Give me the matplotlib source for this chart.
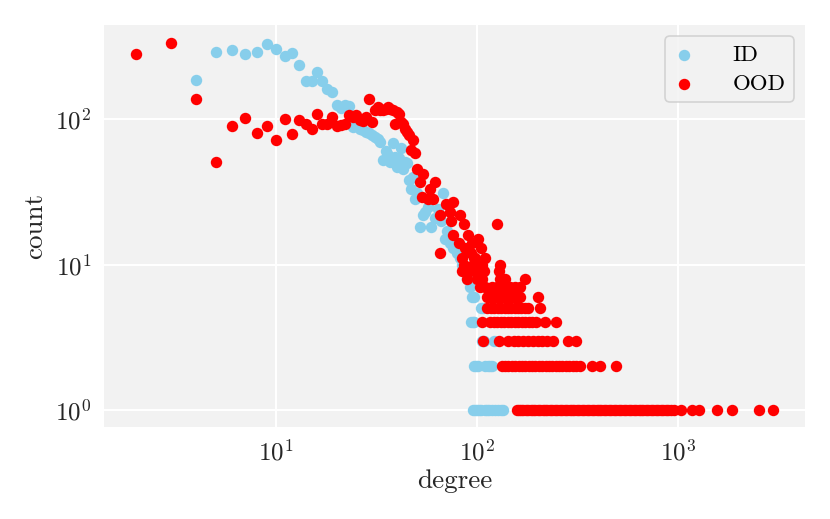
import matplotlib
matplotlib.use("Agg")
import matplotlib.pyplot as plt

# ---------------- data ----------------
id_degree = [4, 5, 6, 7, 8, 9, 10, 11, 12, 13, 14, 15, 16, 17, 18, 19, 20, 21, 22, 23,
             24, 25, 26, 27, 28, 29, 30, 31, 32, 33, 34, 35, 36, 37, 38, 39, 40, 41, 42, 43,
             44, 45, 46, 47, 48, 49, 50, 52, 54, 55, 57, 59, 62, 64, 66, 68, 69, 71, 73, 76,
             79, 82, 84, 86, 89, 92, 94, 96, 105, 107, 93, 95, 97, 106, 108, 121,
             97, 99, 101, 110, 113, 116, 118,
             95, 98, 100, 102, 104, 109, 112, 115, 119, 123, 127, 131, 135]
id_count = [185, 290, 298, 281, 290, 326, 303, 270, 284, 235, 184, 184, 210, 182, 160, 153, 125, 120, 125, 122,
            88, 92, 86, 84, 82, 80, 78, 75, 73, 70, 52, 60, 57, 51, 68, 55, 47, 54, 63, 45,
            51, 50, 38, 33, 40, 28, 31, 18, 22, 23, 25, 18, 21, 24, 20, 31, 15, 17, 14, 13,
            12, 11, 10, 9, 8, 7, 6, 6, 5, 5, 4, 4, 4, 3, 3, 3,
            2, 2, 2, 2, 2, 2, 2,
            1, 1, 1, 1, 1, 1, 1, 1, 1, 1, 1, 1, 1]

ood_degree = [2, 3, 4, 5, 6, 7, 8, 9, 10, 11, 12, 13, 14, 15, 16, 17, 18, 19, 20, 21,
              22, 23, 24, 25, 26, 27, 28, 29, 30, 31, 32, 33, 34, 35, 36, 37, 38, 39, 40, 41,
              42, 43, 44, 45, 46, 47, 48, 49,
              50, 54, 52, 62, 58, 53, 57, 60, 76, 70, 65, 73, 82, 74, 86, 125, 76, 90, 101,
              81, 94, 105, 65, 87, 93, 84, 110, 98, 96,
              86, 95, 106, 130,
              84, 92, 100, 108, 128,
              89, 100, 106, 130, 137, 173,
              103, 110, 118, 126, 135, 145, 155, 164,
              112, 116, 120, 124, 128, 133, 138, 143, 148, 153, 158, 164, 200,
              112, 117, 122, 127, 132, 137, 142, 148, 154, 160, 166, 173, 180, 206,
              106, 116, 121, 126, 131, 136, 142, 148, 154, 160, 167, 174, 181, 188, 196, 218, 246,
              107, 128, 143, 152, 160, 170, 180, 190, 201, 211, 222, 238, 283, 310,
              133, 138, 143, 149, 155, 161, 167, 174, 181, 188, 195, 203, 211, 219, 228, 237,
              246, 256, 266, 277, 288, 300, 312, 324, 373, 411, 494,
              158, 162, 166, 170, 175, 180, 185, 190, 195, 200, 206, 212, 218, 224, 230, 237,
              244, 251, 258, 265, 273, 281, 289, 297, 305, 314, 323, 332, 341, 351, 361, 371,
              382, 393, 404, 416, 428, 440, 453, 466, 479, 493, 507, 522, 537, 552, 568, 584,
              601, 618, 636, 654, 673, 692, 712, 733, 754, 776, 798, 821, 845, 869, 894, 920,
              950, 1040, 1170, 1270, 1565, 1855, 2528, 2985]
ood_count = [281, 334, 137, 51, 89, 101, 80, 90, 72, 100, 79, 98, 93, 85, 109, 93, 93, 104, 89, 91,
             92, 106, 104, 106, 98, 97, 104, 137, 96, 115, 121, 116, 115, 118, 121, 117, 115, 93, 112, 109,
             95, 93, 85, 82, 78, 61, 72, 58,
             45, 42, 37, 37, 33, 29, 28, 28, 27, 26, 22, 23, 22, 20, 19, 19, 16, 16, 15,
             14, 14, 13, 12, 13, 12, 11, 11, 11, 11,
             10, 10, 10, 10,
             9, 9, 9, 9, 9,
             8, 8, 8, 8, 8, 8,
             7, 7, 7, 7, 7, 7, 7, 7,
             6, 6, 6, 6, 6, 6, 6, 6, 6, 6, 6, 6, 6,
             5, 5, 5, 5, 5, 5, 5, 5, 5, 5, 5, 5, 5, 5,
             4, 4, 4, 4, 4, 4, 4, 4, 4, 4, 4, 4, 4, 4, 4, 4, 4,
             3, 3, 3, 3, 3, 3, 3, 3, 3, 3, 3, 3, 3, 3,
             2, 2, 2, 2, 2, 2, 2, 2, 2, 2, 2, 2, 2, 2, 2, 2,
             2, 2, 2, 2, 2, 2, 2, 2, 2, 2, 2,
             1, 1, 1, 1, 1, 1, 1, 1, 1, 1, 1, 1, 1, 1, 1, 1,
             1, 1, 1, 1, 1, 1, 1, 1, 1, 1, 1, 1, 1, 1, 1, 1,
             1, 1, 1, 1, 1, 1, 1, 1, 1, 1, 1, 1, 1, 1, 1, 1,
             1, 1, 1, 1, 1, 1, 1, 1, 1, 1, 1, 1, 1, 1, 1, 1,
             1, 1, 1, 1, 1, 1, 1, 1]

series_labels = ["ID", "OOD"]

# ---------------- style ----------------
plt.rcParams['font.family'] = ['cmr10', 'DejaVu Serif']
plt.rcParams['mathtext.fontset'] = 'cm'
plt.rcParams['axes.formatter.use_mathtext'] = True
plt.rcParams['axes.unicode_minus'] = False

fig = plt.figure(figsize=(830 / 150, 519 / 150), dpi=150)
ax = fig.add_axes([104 / 830, 1 - 427 / 519, (805 - 104) / 830, (427 - 25) / 519])
ax.set_facecolor('#f2f2f2')

ax.scatter(id_degree, id_count, s=30, color='skyblue', label=series_labels[0], linewidths=0, zorder=3)
ax.scatter(ood_degree, ood_count, s=30, color='red', label=series_labels[1], linewidths=0, zorder=4)

ax.set_xscale('log')
ax.set_yscale('log')
ax.set_xlim(1.39, 4285)
ax.set_ylim(0.764, 443)

ax.grid(True, which='major', color='white', linewidth=1.0, zorder=0)
ax.set_axisbelow(True)
for sp in ax.spines.values():
    sp.set_visible(False)
ax.tick_params(which='both', length=0, labelsize=12, colors='#262626', pad=6)
ax.minorticks_off()

ax.set_xlabel('degree', fontsize=13, color='#262626', labelpad=2)
ax.set_ylabel('count', fontsize=13, color='#262626', labelpad=4)

leg = ax.legend(loc='upper right', fontsize=11, frameon=True, facecolor='#f2f2f2',
                edgecolor='#cccccc', borderpad=0.35, handlelength=1.0, handletextpad=1.6,
                scatterpoints=1, borderaxespad=0.5, labelspacing=0.4)
leg.get_frame().set_linewidth(0.8)

fig.savefig('out.png', dpi=150)
